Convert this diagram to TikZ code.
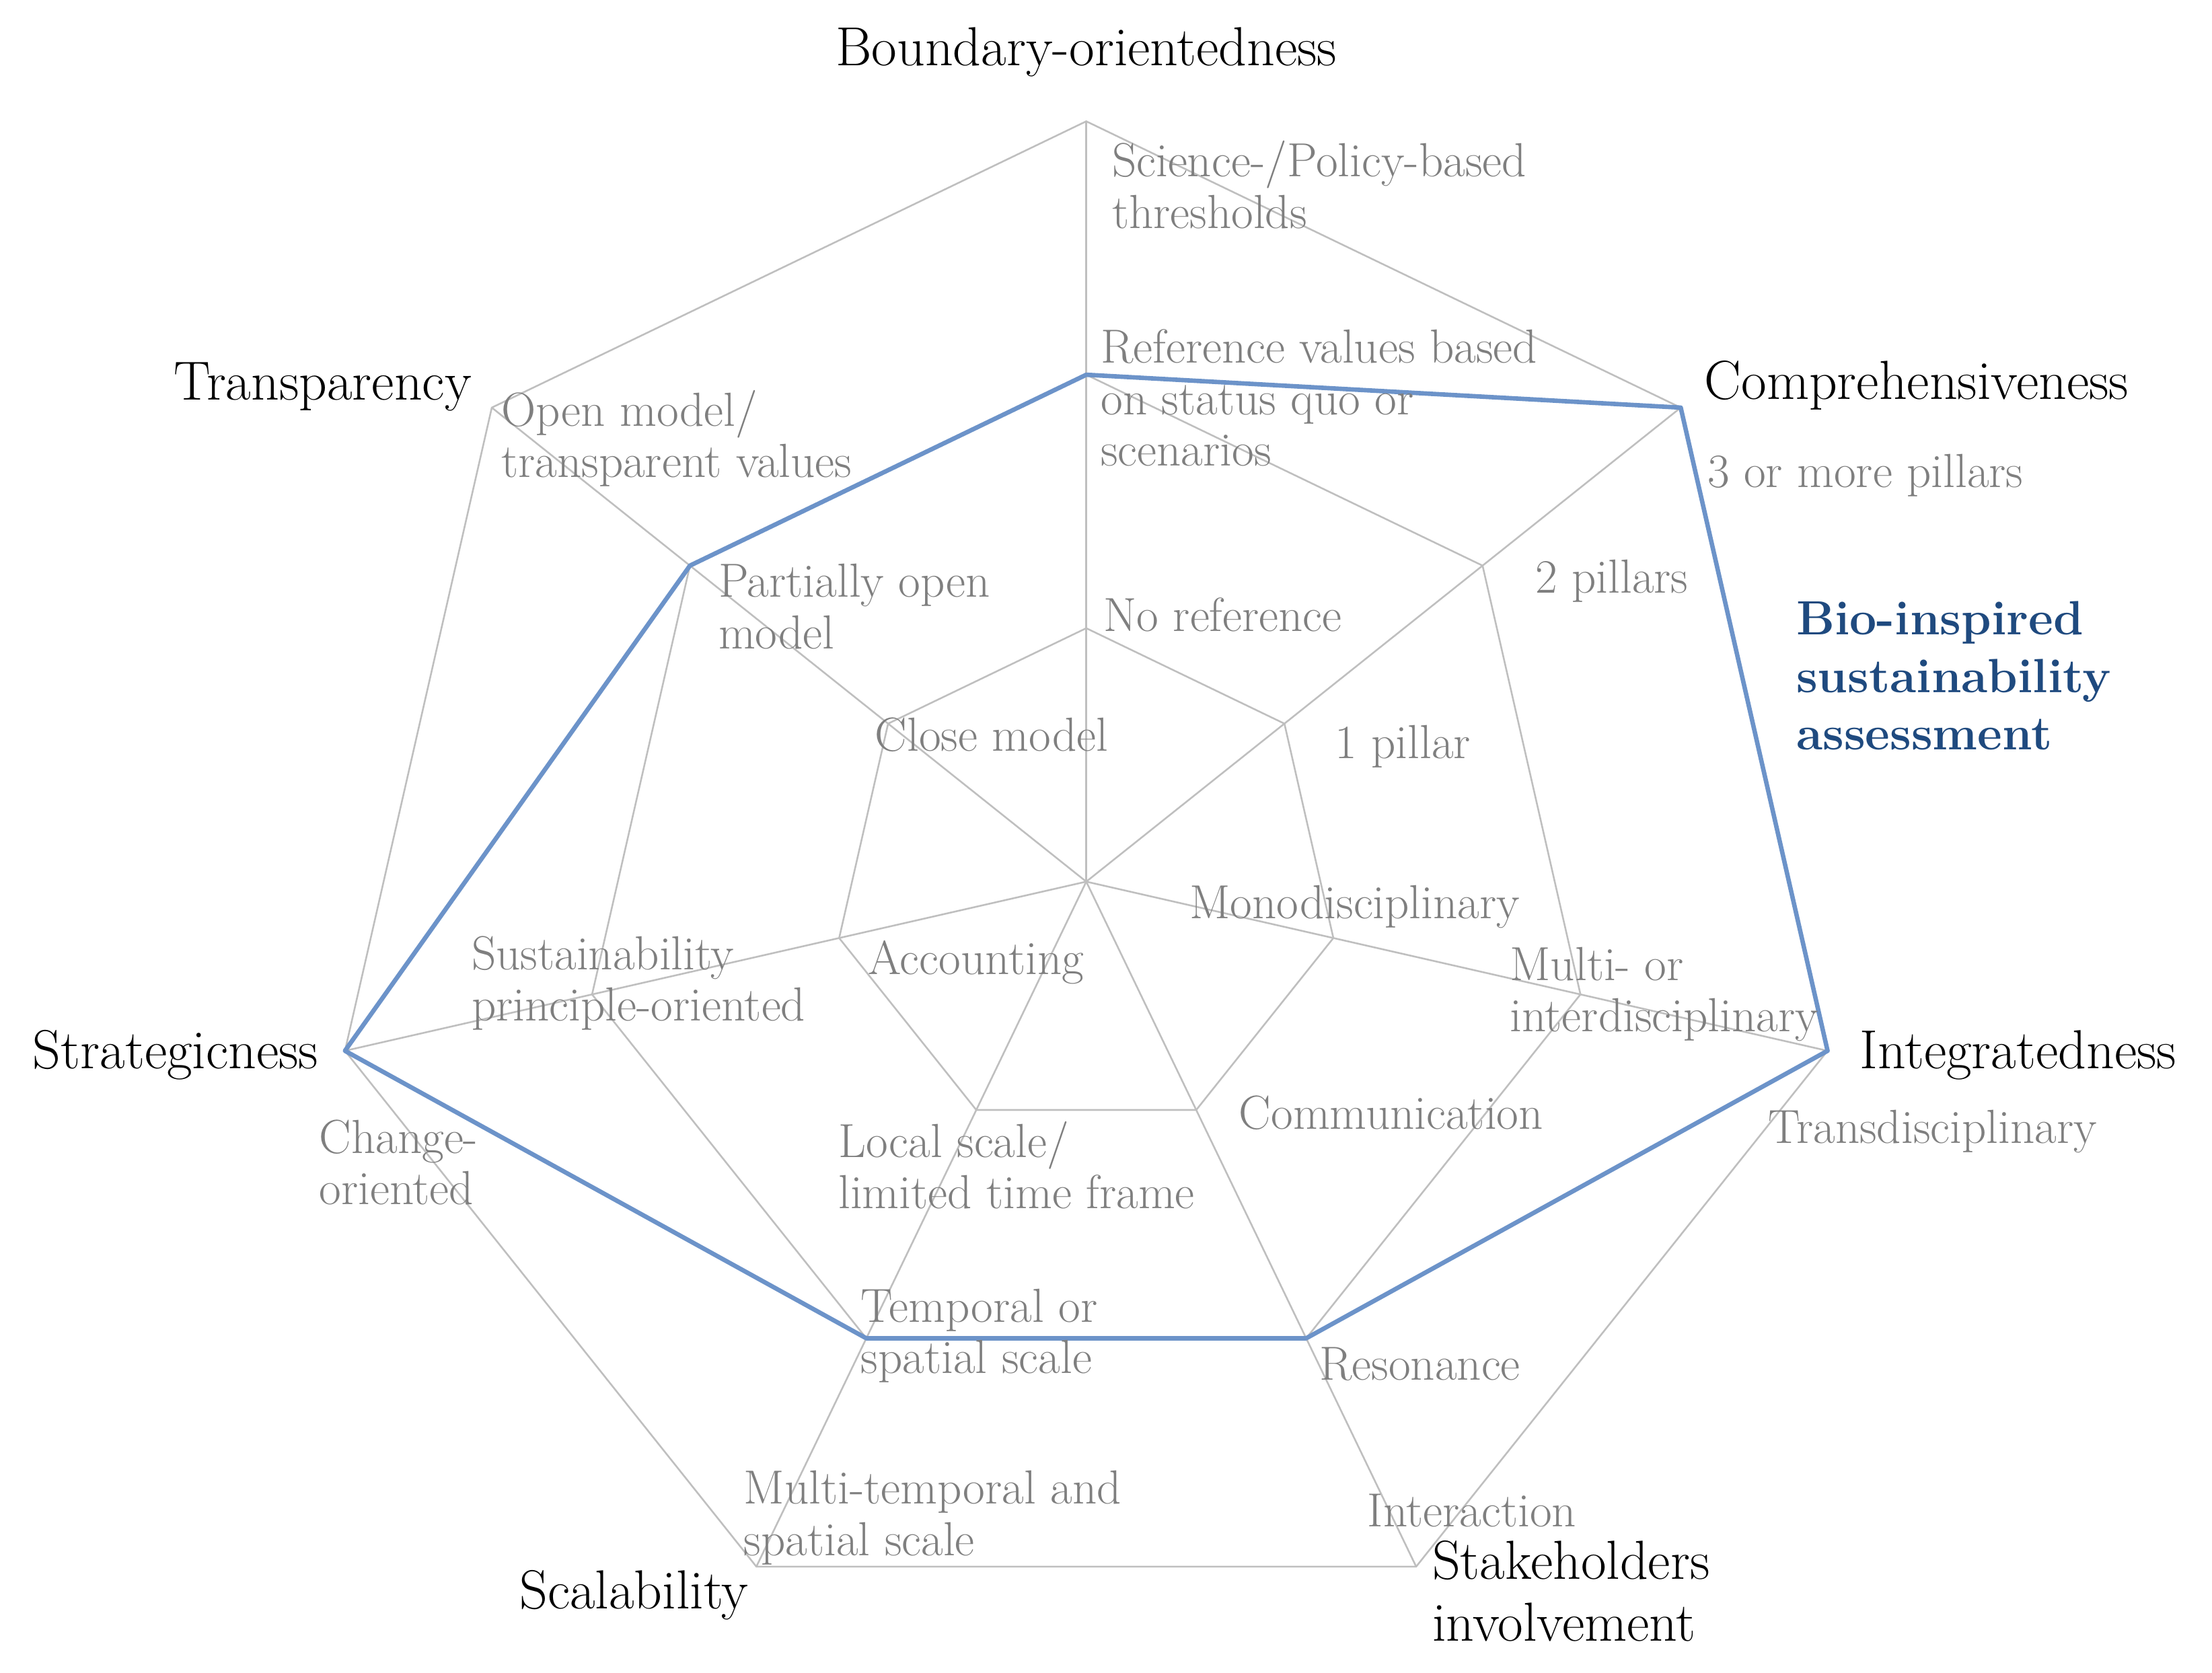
\documentclass[tikz,border=0pt]{standalone}
\usepackage{fontspec}
\usepackage{xcolor}
\usepackage{tikz}

\definecolor{gridgray}{HTML}{BFBFBF}
\definecolor{textgray}{HTML}{7F7F7F}
\definecolor{lineblue}{HTML}{6C93C9}
\definecolor{titleblue}{HTML}{1F4A7F}

\begin{document}
\begin{tikzpicture}[
  x=0.02cm, y=-0.02cm,
  grid/.style={draw=gridgray, line width=0.7pt},
  score/.style={draw=lineblue, line width=1.8pt, line join=round},
  axislabel/.style={inner sep=0pt, anchor=west, align=left, font=\fontsize{22.2}{25}\selectfont},
  levellabel/.style={inner sep=0pt, anchor=west, align=left, text=textgray, font=\fontsize{19.3}{20.7}\selectfont},
  titlelabel/.style={inner sep=0pt, anchor=west, align=left, text=titleblue, font=\fontsize{19.4}{23.2}\selectfont\bfseries}
]
\useasboundingbox (0,0) rectangle (1568,1186);

% centre and grid points, 7 axes x 3 levels
\coordinate (c) at (770,625);
\foreach \i in {0,...,6}{
  \pgfmathsetmacro\ang{90-360/7*\i}
  \foreach \l in {1,2,3}
    \coordinate (p\i-\l) at ({770+539*\l/3*cos(\ang)},{625-539*\l/3*sin(\ang)});
}

\foreach \i in {0,...,6} \draw[grid] (c) -- (p\i-3);
\foreach \l in {1,2,3}
  \draw[grid] (p0-\l) -- (p1-\l) -- (p2-\l) -- (p3-\l) -- (p4-\l) -- (p5-\l) -- (p6-\l) -- cycle;

% assessment
\draw[score] (p0-2) -- (p1-3) -- (p2-3) -- (p3-2) -- (p4-2) -- (p5-3) -- (p6-2) -- cycle;

% axes
\node[axislabel, anchor=center] (boundary) at (770,37) {Boundary-orientedness};
\node[axislabel] (compre) at (1208,273) {Comprehensiveness};
\node[axislabel] (integr) at (1318,748) {Integratedness};
\node[axislabel] (stake) at (1015,1128) {Stakeholders\\involvement};
\node[axislabel] (scal) at (368,1131) {Scalability};
\node[axislabel] (strat) at (23,748) {Strategicness};
\node[axislabel] (transp) at (123,274) {Transparency};

% levels
\node[levellabel] (bnd3) at (788,131) {Science-/Policy-based\\thresholds};
\node[levellabel] (bnd2) at (780,282) {Reference values based\\on status quo or\\scenarios};
\node[levellabel] (bnd1) at (782,436) {No reference};
\node[levellabel] (com3) at (1210,337) {3 or more pillars};
\node[levellabel] (com2) at (1088,412) {2 pillars};
\node[levellabel] (com1) at (946,529) {1 pillar};
\node[levellabel] (int1) at (843,643) {Monodisciplinary};
\node[levellabel] (int2) at (1070,705) {Multi- or\\interdisciplinary};
\node[levellabel] (int3) at (1253,802) {Transdisciplinary};
\node[levellabel] (stk1) at (878,789) {Communication};
\node[levellabel] (stk2) at (935,967) {Resonance};
\node[levellabel] (stk3) at (969,1071) {Interaction};
\node[levellabel] (scl1) at (594,826) {Local scale/\\limited time frame};
\node[levellabel] (scl2) at (610,947) {Temporal or\\spatial scale};
\node[levellabel] (scl3) at (527,1076) {Multi-temporal and\\spatial scale};
\node[levellabel] (str1) at (615,682) {Accounting};
\node[levellabel] (str2) at (334,697) {Sustainability\\principle-oriented};
\node[levellabel] (str3) at (226,824) {Change-\\oriented};
\node[levellabel] (trn1) at (620,521) {Close model};
\node[levellabel] (trn2) at (509,430) {Partially open\\model};
\node[levellabel] (trn3) at (355,311) {Open model/\\transparent values};

% legend
\node[titlelabel] (title) at (1273,479) {Bio-inspired\\sustainability\\assessment};
\end{tikzpicture}
\end{document}
